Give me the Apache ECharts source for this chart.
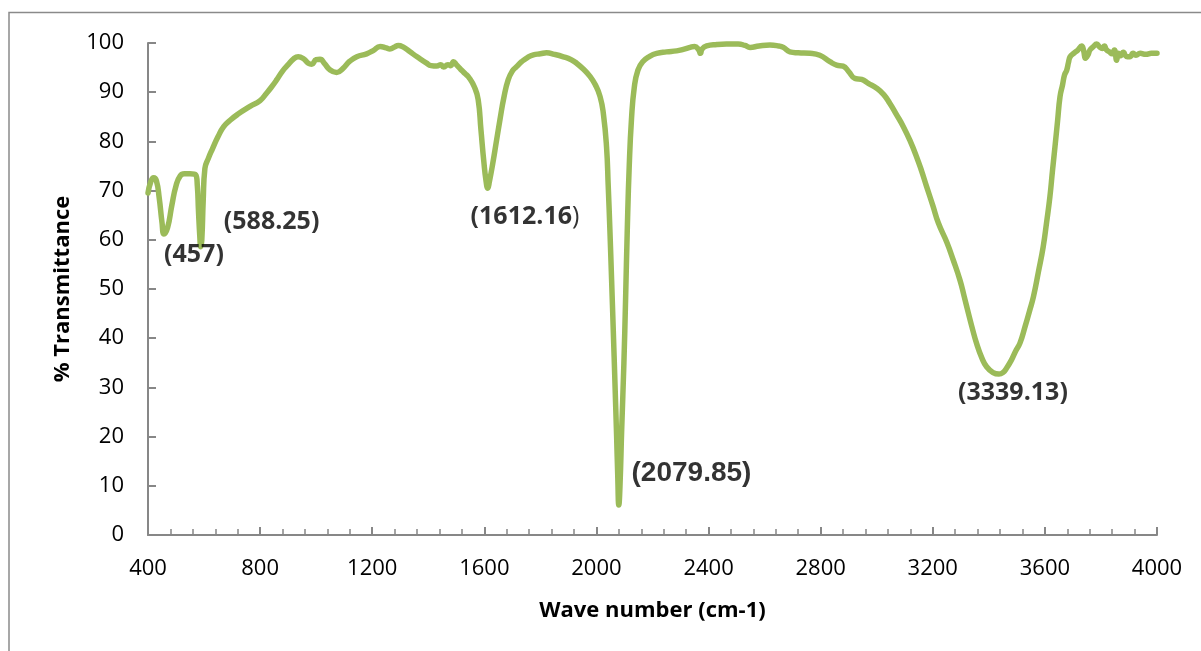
<!DOCTYPE html>
<html>
<head>
<meta charset="utf-8">
<title>FTIR spectrum</title>
<script src="https://cdn.jsdelivr.net/npm/echarts@6/dist/echarts.min.js"></script>
<style>
  html, body { margin: 0; padding: 0; background: #ffffff; }
  #chart { width: 1201px; height: 651px; }
</style>
</head>
<body>
<div id="chart"></div>
<script>
// Wavenumber (cm-1) and % transmittance of the measured spectrum
const wavenumber = [
  400, 410, 420, 430, 440, 450, 457, 470, 485, 500, 515, 530, 550, 570, 576, 580, 585, 588.25, 592, 597,
  603, 615, 630, 650, 670, 693, 720, 764, 800, 823, 840, 859, 880, 900, 920, 936, 955, 972, 984, 1000,
  1014, 1030, 1050, 1073, 1095, 1120, 1145, 1180, 1205, 1228, 1250, 1263, 1280, 1293, 1310, 1335, 1360, 1394, 1410, 1430,
  1445, 1455, 1470, 1480, 1490, 1500, 1510, 1520, 1531, 1545, 1565, 1578, 1588, 1598, 1606, 1612.16, 1618, 1630, 1643, 1656,
  1670, 1685, 1700, 1715, 1733, 1755, 1775, 1800, 1822, 1850, 1882, 1910, 1929, 1955, 1977, 1995, 2013, 2025, 2036, 2042,
  2048, 2054, 2060, 2066, 2072, 2076, 2079.85, 2084, 2090, 2098, 2104, 2110, 2117, 2125, 2135, 2148, 2165, 2190, 2215, 2250,
  2286, 2310, 2334, 2350, 2365, 2371, 2377, 2393, 2430, 2464, 2506, 2530, 2548, 2580, 2619, 2650, 2667, 2690, 2720, 2762,
  2797, 2833, 2857, 2880, 2900, 2922, 2946, 2970, 3000, 3025, 3047, 3070, 3095, 3120, 3142, 3160, 3178, 3200, 3220, 3250,
  3273, 3297, 3312, 3327, 3342, 3356, 3375, 3392, 3415, 3436, 3450, 3463, 3480, 3495, 3511, 3530, 3545, 3559, 3577, 3594,
  3606, 3618, 3627, 3636, 3645, 3654, 3663, 3670, 3678, 3684, 3690, 3705, 3718, 3731, 3738, 3745, 3753, 3761, 3772, 3785,
  3795, 3805, 3812, 3820, 3830, 3840, 3848, 3856, 3862, 3870, 3880, 3890, 3903, 3915, 3925, 3940, 3960, 3980, 4000
];
const transmittance = [
  69.5, 71.8, 72.6, 72.0, 68.5, 63.5, 61.2, 62.5, 67.0, 71.0, 73.0, 73.4, 73.4, 73.2, 71.0, 66.0, 60.5, 58.6, 60.0, 68.0,
  74.5, 76.5, 78.5, 81.0, 83.0, 84.3, 85.5, 87.1, 88.3, 89.8, 91.0, 92.5, 94.3, 95.6, 96.8, 97.2, 96.8, 95.9, 95.7, 96.6,
  96.7, 95.8, 94.5, 94.0, 94.8, 96.3, 97.2, 97.8, 98.5, 99.3, 99.0, 98.8, 99.2, 99.5, 99.2, 98.2, 97.2, 95.9, 95.4, 95.3,
  95.6, 95.1, 95.6, 95.4, 96.2, 95.6, 95.0, 94.4, 93.8, 93.0, 91.0, 88.5, 82.3, 76.0, 72.0, 70.5, 71.8, 75.5, 80.0, 84.5,
  89.0, 92.5, 94.3, 95.2, 96.2, 97.1, 97.6, 97.8, 98.0, 97.7, 97.2, 96.6, 95.9, 94.6, 93.2, 91.6, 89.1, 85.5, 78.9, 71.0,
  62.0, 52.0, 41.7, 31.0, 20.0, 12.0, 6.1, 10.0, 21.3, 35.0, 48.0, 62.0, 75.0, 84.5, 91.0, 94.5, 96.2, 97.3, 97.9, 98.2,
  98.4, 98.7, 99.1, 99.3, 98.6, 97.9, 98.8, 99.4, 99.7, 99.8, 99.8, 99.5, 99.1, 99.4, 99.6, 99.4, 99.1, 98.2, 98.0, 97.9,
  97.5, 96.2, 95.5, 95.3, 94.2, 92.8, 92.6, 91.8, 90.8, 89.5, 87.7, 85.5, 83.0, 80.0, 76.9, 74.0, 70.8, 67.0, 63.4, 59.5,
  55.9, 51.8, 48.5, 45.1, 41.8, 39.0, 36.0, 34.2, 33.0, 32.7, 33.0, 33.9, 35.5, 37.3, 39.0, 42.5, 45.5, 48.4, 53.5, 58.6,
  63.5, 68.8, 74.0, 78.9, 84.0, 89.1, 91.5, 93.5, 94.5, 96.0, 97.2, 98.0, 98.6, 99.4, 98.5, 96.9, 97.5, 98.6, 99.2, 99.8,
  99.2, 98.9, 99.4, 98.6, 98.2, 97.8, 98.6, 96.5, 97.9, 97.4, 98.1, 97.3, 97.2, 97.9, 97.5, 97.9, 97.7, 97.9, 97.9
];

// Band assignments written beside the absorption peaks (anchor in axis units)
const peakLabels = ['(457)', '(588.25)', '(1612.16)', '(2079.85)', '(3339.13)'];
const peakLabelWavenumber = [564, 841, 1745, 2339, 3486];
const peakLabelTransmittance = [56.9, 63.6, 64.6, 12.6, 28.9];

// Axis tick values
const xTicks = { min: 400, max: 4000, step: 400 };
const yTicks = { min: 0, max: 100, step: 10 };

const spectrum = wavenumber.map((w, i) => [w, transmittance[i]]);
const labelPoints = peakLabels.map((t, i) => ({
  value: [peakLabelWavenumber[i], peakLabelTransmittance[i]],
  name: t
}));

const axisGray = '#878787';
const chart = echarts.init(document.getElementById('chart'), null, { renderer: 'canvas' });

chart.setOption({
  backgroundColor: '#ffffff',
  animation: false,
  grid: { left: 148, right: 44, top: 43, bottom: 116, containLabel: false },
  graphic: [{
    type: 'rect',
    shape: { x: 9, y: 12.5, width: 1400, height: 900 },
    style: { fill: 'none', stroke: '#8a8a8a', lineWidth: 1.5 },
    silent: true,
    z: 0
  }],
  xAxis: {
    type: 'value',
    min: xTicks.min,
    max: xTicks.max,
    interval: xTicks.step,
    name: 'Wave number (cm-1)',
    nameLocation: 'middle',
    nameGap: 65,
    nameTextStyle: { fontFamily: 'Open Sans', fontWeight: 'bold', fontSize: 22, color: '#000' },
    axisLine: { show: true, lineStyle: { color: axisGray, width: 2 } },
    axisTick: { show: true, inside: true, length: 8, lineStyle: { color: axisGray, width: 2 } },
    minorTick: { show: true, splitNumber: 5, length: 6, lineStyle: { color: axisGray, width: 1.5 } },
    axisLabel: {
      fontFamily: 'Open Sans', fontSize: 22, color: '#000', margin: 23,
      formatter: (v) => String(v)
    },
    splitLine: { show: false }
  },
  yAxis: {
    type: 'value',
    min: yTicks.min,
    max: yTicks.max,
    interval: yTicks.step,
    name: '% Transmittance',
    nameLocation: 'middle',
    nameRotate: 90,
    nameGap: 74,
    nameTextStyle: { fontFamily: 'Open Sans', fontWeight: 'bold', fontSize: 22, color: '#000' },
    axisLine: { show: true, lineStyle: { color: axisGray, width: 2 } },
    axisTick: { show: true, inside: true, length: 8, lineStyle: { color: axisGray, width: 2 } },
    axisLabel: { fontFamily: 'Open Sans', fontSize: 22, color: '#000', margin: 24 },
    splitLine: { show: false }
  },
  series: [
    {
      type: 'line',
      data: spectrum,
      showSymbol: false,
      smooth: 0.5,
      lineStyle: { color: '#9bbb59', width: 5.5, cap: 'round', join: 'round' },
      z: 3
    },
    {
      type: 'scatter',
      data: labelPoints,
      symbolSize: 0,
      silent: true,
      z: 4,
      label: {
        show: true,
        position: 'inside',
        color: '#000',
        formatter: (p) => {
          if (p.name === '(1612.16)') return '{b|(1612.16}{n|)}';
          if (p.name === '(2079.85)') return '{a|' + p.name + '}';
          return '{b|' + p.name + '}';
        },
        rich: {
          b: { fontFamily: 'Open Sans', fontWeight: 'bold', fontSize: 25, color: '#000' },
          n: { fontFamily: 'Open Sans', fontWeight: 'normal', fontSize: 25, color: '#000' },
          a: { fontFamily: 'Liberation Sans', fontWeight: 'bold', fontSize: 28, color: '#000' }
        }
      }
    }
  ]
});
</script>
</body>
</html>
